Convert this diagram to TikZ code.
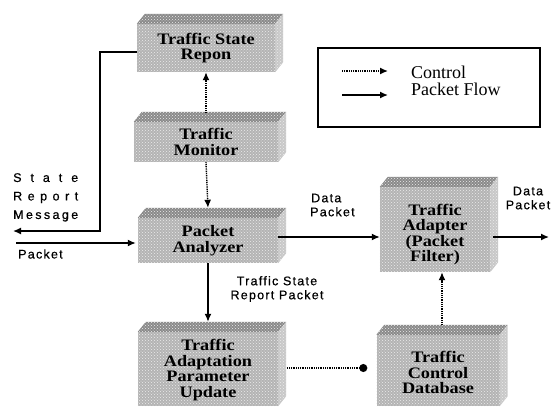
\documentclass[tikz,border=0pt]{standalone}
\usepackage{fontspec}
\setmainfont{Liberation Serif}
\newfontfamily\boxfont[FakeStretch=1.14]{Liberation Serif}
\newfontfamily\lblfont[LetterSpace=10,FakeBold=0.6]{Liberation Sans}
\usetikzlibrary{arrows.meta,patterns,calc}
\definecolor{boxfront}{HTML}{B4B4B4}
\definecolor{boxtop}{HTML}{8A8A8A}
\definecolor{boxside}{HTML}{C8C8C8}
\newcommand\boxtops[1]{%
  \fill[boxtop] (#1.north west) -- ++(8,-10) -- ($(#1.north east)+(8,-10)$) -- (#1.north east) -- cycle;
  \fill[boxside] (#1.north east) -- ++(8,-10) -- ($(#1.south east)+(8,-10)$) -- (#1.south east) -- cycle;
  \fill[pattern=crosshatch dots, pattern color=white!85!gray] (#1.north west) -- ++(8,-10) -- ($(#1.north east)+(8,-10)$) -- ($(#1.south east)+(8,-10)$) -- (#1.south east) -- (#1.south west) -- cycle;
}
\begin{document}
\begin{tikzpicture}[x=1pt,y=-1pt,
  box/.style={fill=boxfront, inner sep=0pt},
  boxtxt/.style={inner sep=0pt, align=center,
    font=\fontsize{16}{15.5}\selectfont\boxfont\bfseries},
  lbl/.style={inner sep=0pt, align=center, font=\fontsize{12.5}{14}\selectfont\lblfont},
  flow/.style={line width=1.4pt, -{Latex[length=8pt,width=7pt]}},
  ctrl/.style={line width=1.4pt, dash pattern=on 1pt off 0.8pt, -{Latex[length=8pt,width=7pt]}},
  ctrldot/.style={line width=1.4pt, dash pattern=on 1pt off 0.8pt, -{Circle[length=8pt]}}]
\useasboundingbox (0,0) rectangle (558,408);

% box bodies
\node[box, minimum width=138, minimum height=48] (tsr) at (206,48) {};
\node[box, minimum width=144, minimum height=40] (tm) at (206,142) {};
\node[box, minimum width=140, minimum height=45] (pa) at (208,240.5) {};
\node[box, minimum width=140, minimum height=74] (tapu) at (208,369) {};
\node[box, minimum width=110, minimum height=85] (ad) at (435,229.5) {};
\node[box, minimum width=123, minimum height=71] (tcd) at (438,370.5) {};
\boxtops{tsr}\boxtops{tm}\boxtops{pa}\boxtops{tapu}\boxtops{ad}\boxtops{tcd}

% box texts
\node[boxtxt] (tsrt) at ($(tsr)+(0,0)$) {Traffic State\\Repon};
\node[boxtxt] (tmt) at (tm) {Traffic\\Monitor};
\node[boxtxt] (pat) at (pa) {Packet\\Analyzer};
\node[boxtxt] (taput) at ($(tapu)+(0,1)$) {Traffic\\Adaptation\\Parameter\\Update};
\node[boxtxt] (adt) at ($(ad)+(0,5)$) {Traffic\\Adapter\\(Packet\\Filter)};
\node[boxtxt] (tcdt) at ($(tcd)+(0,2)$) {Traffic\\Control\\Database};

% legend
\node[draw, line width=1.3pt, minimum width=222, minimum height=79, inner sep=0pt] (leg) at (429,87.5) {};
\coordinate (l1a) at (342,71); \coordinate (l1b) at (388,71);
\coordinate (l2a) at (342,95); \coordinate (l2b) at (388,95);
\draw[ctrl] (l1a) -- (l1b);
\draw[flow] (l2a) -- (l2b);
\node[anchor=west, align=left, inner sep=0pt, font=\fontsize{18}{16.5}\selectfont] (legtxt) at (411,81) {Control\\Packet Flow};

% coordinates
\coordinate (row) at (0,237);
\coordinate (msgend) at (13,231);
\coordinate (pin) at (16,243);
\coordinate (pout) at (549,237);
\coordinate (r2) at (0,368);

% connectors
\draw[ctrl] ([yshift=9pt]tm.north) -- (tsr.south);
\draw[ctrl] (tm.south) -- ([yshift=10pt]pa.north);
\draw[flow] (pa.south) -- ([yshift=10pt]tapu.north);
\draw[line width=1.4pt, -{Latex[length=8pt,width=7pt]}] ([yshift=-4pt]tsr.west) -- ++(-37,0) |- (msgend);
\draw[flow] (pin) -- ($(pin -| pa.west)+(-2,0)$);
\draw[flow] (pa.east |- row) -- (ad.west |- row);
\draw[flow] ($(ad.east |- row)+(3,0)$) -- (pout);
\draw[ctrl] ([xshift=4pt,yshift=10pt]tcd.north) -- ([xshift=4pt]tcd.north |- ad.south);
\draw[ctrldot] ($(tapu.east |- r2)+(9,0)$) -- ($(tcd.west |- r2)+(-9,0)$);

% labels
\node[lbl, anchor=north west, align=left, font=\fontsize{12.5}{18.5}\selectfont\lblfont] (srm) at (13,173)
  {\makebox[65pt][s]{S\hfill t\hfill a\hfill t\hfill e}\\
   \makebox[65pt][s]{R\hfill e\hfill p\hfill o\hfill r\hfill t}\\
   \makebox[65pt][s]{M\hfill e\hfill s\hfill s\hfill a\hfill g\hfill e}};
\node[lbl, anchor=west] (lpk) at (18,254) {Packet};
\node[lbl] (tsrp) at (277,289) {Traffic State\\Report Packet};
\node[lbl, anchor=west, align=left] (dp1) at (310,205) {\hspace*{1pt}Data\\Packet};
\node[lbl] (dp2) at (528,198) {Data\\Packet};
\end{tikzpicture}
\end{document}
